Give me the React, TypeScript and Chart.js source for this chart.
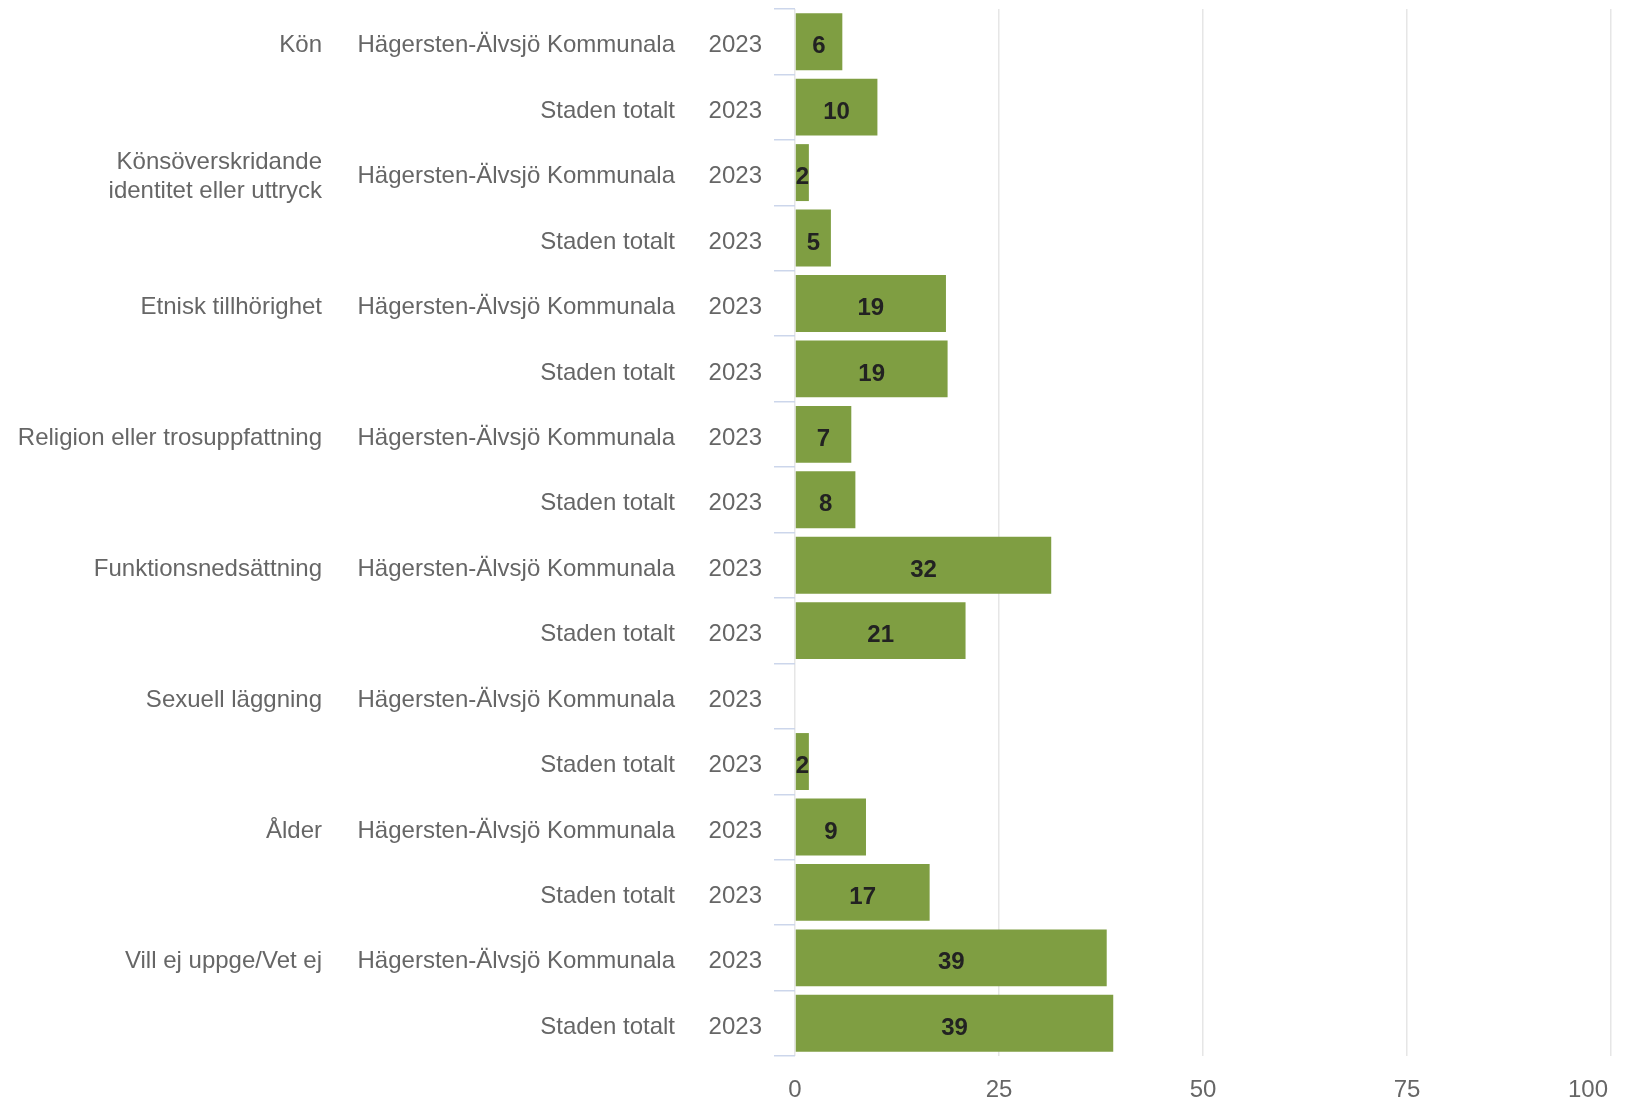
import React, { useEffect, useRef } from "react";
import { Chart, registerables } from "chart.js";

Chart.register(...registerables);

const categories: (string | string[])[] = [
  "Kön",
  ["Könsöverskridande", "identitet eller uttryck"],
  "Etnisk tillhörighet",
  "Religion eller trosuppfattning",
  "Funktionsnedsättning",
  "Sexuell läggning",
  "Ålder",
  "Vill ej uppge/Vet ej",
];
const groups = ["Hägersten-Älvsjö Kommunala", "Staden totalt"];
const year = "2023";
const values = [5.8, 10.1, 1.7, 4.4, 18.5, 18.7, 6.9, 7.4, 31.4, 20.9, 0, 1.7, 8.7, 16.5, 38.2, 39.0];
const valueLabels = ["6", "10", "2", "5", "19", "19", "7", "8", "32", "21", "", "2", "9", "17", "39", "39"];
const xTicks = [0, 25, 50, 75, 100];

const FONT = "'Liberation Sans', Arial, sans-serif";
const TEXT = "#666666";

export default function App() {
  const ref = useRef<HTMLCanvasElement | null>(null);

  useEffect(() => {
    document.documentElement.style.overflow = "hidden";
    const canvas = ref.current;
    if (!canvas) return;
    const rowLabels = values.map((_, i) => String(i));

    const labelsPlugin = {
      id: "customLabels",
      afterDatasetsDraw(chart: any) {
        const ctx = chart.ctx;
        const meta = chart.getDatasetMeta(0);
        ctx.save();
        ctx.font = `bold 24px ${FONT}`;
        ctx.fillStyle = "#222222";
        ctx.textAlign = "center";
        ctx.textBaseline = "middle";
        meta.data.forEach((el: any, i: number) => {
          const t = valueLabels[i];
          if (!t) return;
          const cx = (el.x + el.base) / 2;
          ctx.fillText(t, cx, el.y + 5);
        });
        ctx.restore();
      },
      afterDraw(chart: any) {
        const ctx = chart.ctx;
        const ys = chart.scales.y;
        const xs = chart.scales.x;
        ctx.save();
        ctx.font = `24px ${FONT}`;
        ctx.fillStyle = TEXT;
        ctx.textBaseline = "middle";
        ctx.textAlign = "right";
        for (let i = 0; i < values.length; i++) {
          const y = ys.getPixelForValue(i) + 4;
          ctx.fillText(year, 754, y);
          ctx.fillText(groups[i % 2], 667, y);
          if (i % 2 === 0) {
            const c = categories[i / 2];
            const lines = Array.isArray(c) ? c : [c];
            const lh = 29;
            const y0 = y - ((lines.length - 1) * lh) / 2;
            lines.forEach((ln, k) => ctx.fillText(ln, 314, y0 + k * lh));
          }
        }
        // x tick labels
        xTicks.forEach((v, k) => {
          const px = xs.getPixelForValue(v);
          if (k === xTicks.length - 1) {
            ctx.textAlign = "right";
            ctx.fillText(String(v), px - 3, 1082);
          } else {
            ctx.textAlign = "center";
            ctx.fillText(String(v), px, 1082);
          }
        });
        ctx.restore();
      },
    };

    const chart = new Chart(canvas, {
      type: "bar",
      data: {
        labels: rowLabels,
        datasets: [
          {
            data: values,
            backgroundColor: "#7f9e42",
            borderWidth: 0,
            categoryPercentage: 1,
            barPercentage: 0.87,
          },
        ],
      },
      options: {
        indexAxis: "y",
        animation: false,
        responsive: false,
        maintainAspectRatio: false,
        layout: { padding: { left: 0, top: 1, right: 9, bottom: 0 } },
        plugins: { legend: { display: false }, tooltip: { enabled: false } },
        scales: {
          x: {
            type: "linear",
            min: 0,
            max: 100,
            ticks: { display: false, stepSize: 25 },
            grid: { color: "#e6e6e6", lineWidth: 1.5, drawTicks: false },
            border: { display: false },
            afterFit(scale: any) {
              scale.height = 44;
            },
          },
          y: {
            type: "category",
            ticks: { display: false },
            grid: {
              offset: true,
              drawOnChartArea: false,
              drawTicks: true,
              tickLength: 21,
              color: "#ccd6eb",
              lineWidth: 1.5,
            },
            border: { display: false },
            afterFit(scale: any) {
              scale.width = 787;
            },
          },
        },
      },
      plugins: [labelsPlugin],
    } as any);

    return () => chart.destroy();
  }, []);

  return (
    <div style={{ width: 1612, height: 1092 }}>
      <canvas ref={ref} width={1612} height={1092} style={{ width: 1612, height: 1092, display: "block" }} />
    </div>
  );
}
